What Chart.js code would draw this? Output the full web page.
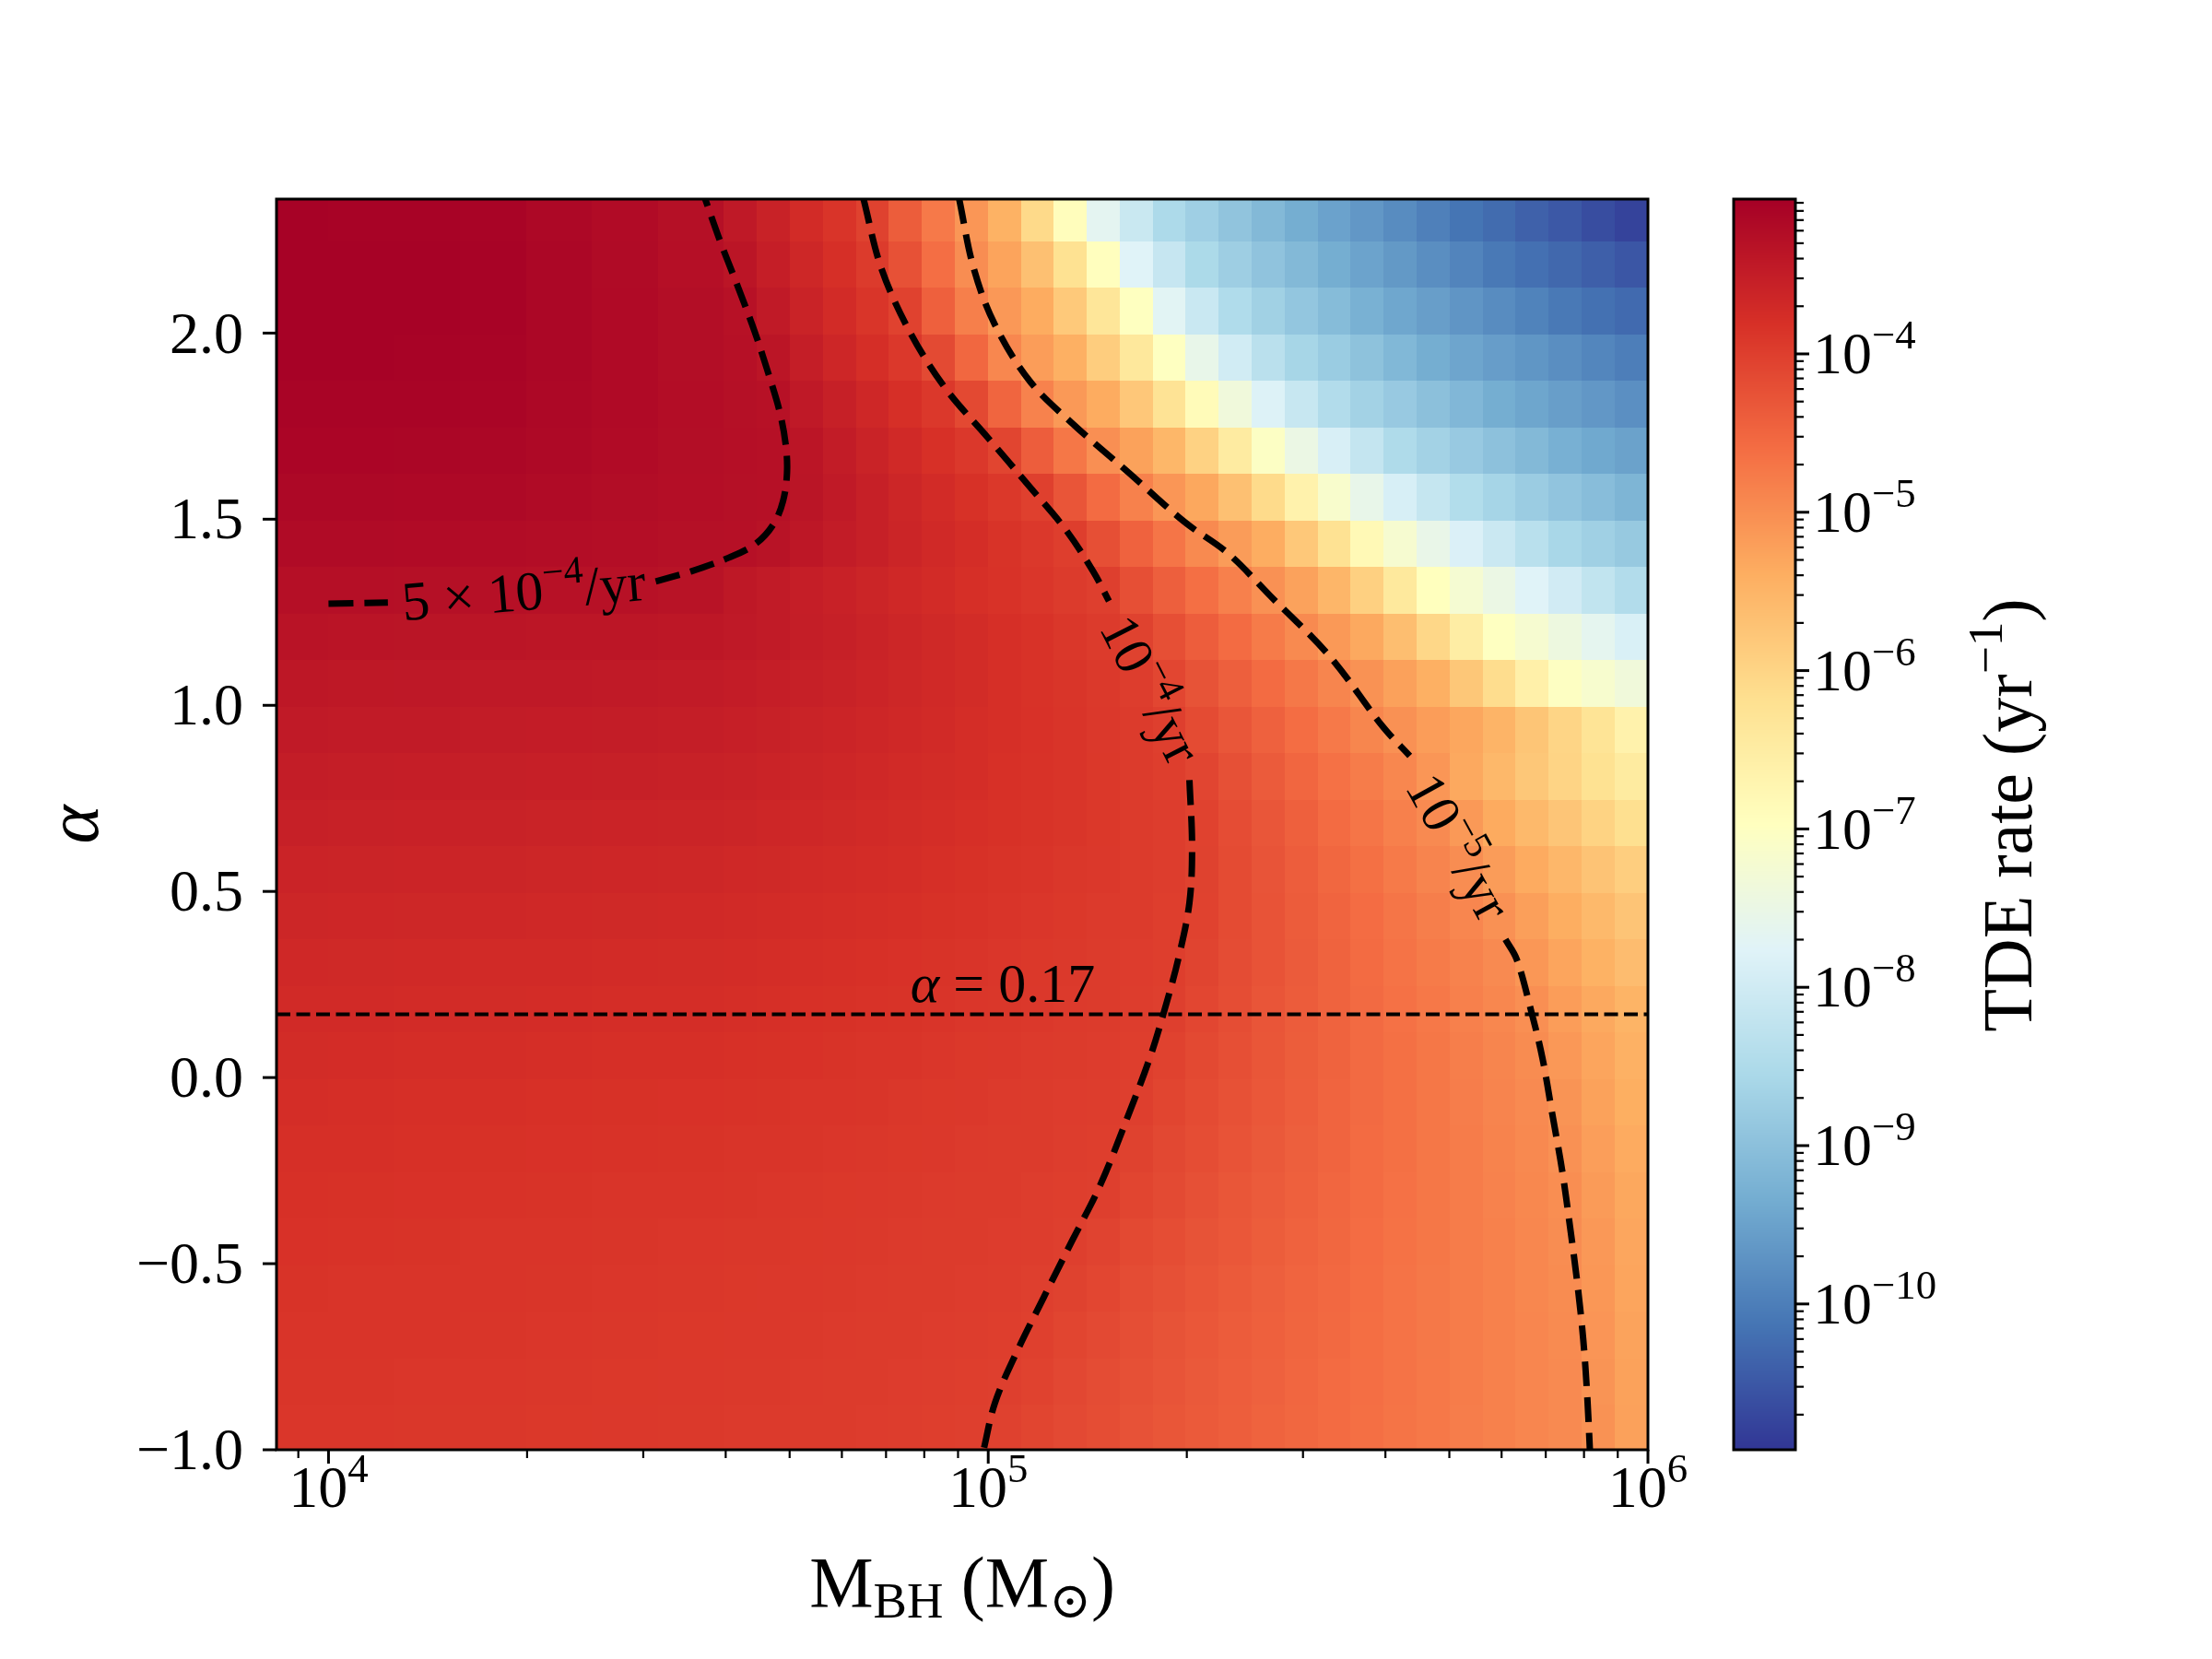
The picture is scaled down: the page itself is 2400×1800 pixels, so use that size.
<!DOCTYPE html>
<html>
<head>
<meta charset="utf-8">
<script src="https://cdn.jsdelivr.net/npm/chart.js@4.4.1/dist/chart.umd.min.js"></script>
<style>
  html, body { margin: 0; padding: 0; background: #fff; }
  #wrap { width: 2400px; height: 1800px; }
</style>
</head>
<body>
<div id="wrap"><canvas id="tdeChart" width="2400" height="1800"></canvas></div>
<script>
// axis limits
const xMin = 8340, xMax = 1e6;
const alphaMin = -1.0, alphaMax = 2.36;
const rateMin = 1.2e-11, rateMax = 9.5e-4;

// tick values
const massTicks = [1e4, 1e5, 1e6];
const alphaTicks = [-1.0, -0.5, 0.0, 0.5, 1.0, 1.5, 2.0];
const rateTicks = [1e-10, 1e-9, 1e-8, 1e-7, 1e-6, 1e-5, 1e-4];

// rate map: cell edges in M_BH and alpha, values are log10(rate / yr^-1)
const massEdges = [7943, 10000, 12589, 15849, 19953, 25119, 31623, 39811, 44668, 50119,
  56234, 63096, 70795, 79433, 89125, 100000, 112202, 125893, 141254, 158489, 177828,
  199526, 223872, 251189, 281838, 316228, 354813, 398107, 446684, 501187, 562341,
  630957, 707946, 794328, 891251, 1000000];
const alphaEdges = [-1, -0.875, -0.75, -0.625, -0.5, -0.375, -0.25, -0.125, 0, 0.125,
  0.25, 0.375, 0.5, 0.625, 0.75, 0.875, 1, 1.125, 1.25, 1.375, 1.5, 1.625, 1.75,
  1.875, 2, 2.125, 2.25, 2.375];
const log10Rate = [
  [-3.89,-3.89,-3.90,-3.90,-3.91,-3.92,-3.93,-3.94,-3.94,-3.95,-3.96,-3.97,-3.98,-3.99,-4.00,-4.03,-4.08,-4.14,-4.19,-4.25,-4.30,-4.36,-4.41,-4.47,-4.52,-4.58,-4.63,-4.69,-4.74,-4.80,-4.85,-4.91,-4.96,-5.05,-5.23],
  [-3.88,-3.88,-3.89,-3.89,-3.90,-3.91,-3.92,-3.93,-3.93,-3.94,-3.95,-3.96,-3.97,-3.98,-3.99,-4.00,-4.05,-4.11,-4.17,-4.23,-4.28,-4.34,-4.40,-4.45,-4.51,-4.57,-4.62,-4.68,-4.74,-4.79,-4.85,-4.91,-4.96,-5.07,-5.24],
  [-3.86,-3.87,-3.87,-3.88,-3.89,-3.90,-3.91,-3.92,-3.92,-3.93,-3.94,-3.95,-3.96,-3.97,-3.98,-3.99,-4.02,-4.08,-4.14,-4.20,-4.26,-4.32,-4.38,-4.44,-4.50,-4.55,-4.61,-4.67,-4.73,-4.79,-4.85,-4.91,-4.97,-5.09,-5.26],
  [-3.85,-3.86,-3.86,-3.87,-3.88,-3.89,-3.90,-3.91,-3.92,-3.92,-3.93,-3.94,-3.95,-3.96,-3.97,-3.98,-4.00,-4.04,-4.10,-4.17,-4.23,-4.29,-4.35,-4.42,-4.48,-4.54,-4.60,-4.67,-4.73,-4.79,-4.85,-4.92,-4.98,-5.11,-5.28],
  [-3.83,-3.84,-3.85,-3.86,-3.87,-3.88,-3.89,-3.90,-3.90,-3.91,-3.92,-3.93,-3.94,-3.95,-3.96,-3.97,-3.98,-4.00,-4.06,-4.13,-4.19,-4.26,-4.32,-4.39,-4.46,-4.52,-4.59,-4.66,-4.72,-4.79,-4.85,-4.92,-4.99,-5.13,-5.30],
  [-3.81,-3.82,-3.83,-3.84,-3.85,-3.86,-3.87,-3.88,-3.89,-3.90,-3.91,-3.92,-3.93,-3.94,-3.95,-3.96,-3.98,-3.99,-4.01,-4.08,-4.15,-4.23,-4.30,-4.37,-4.44,-4.51,-4.58,-4.65,-4.72,-4.79,-4.86,-4.93,-5.00,-5.16,-5.32],
  [-3.79,-3.80,-3.81,-3.82,-3.83,-3.84,-3.85,-3.86,-3.87,-3.88,-3.89,-3.90,-3.91,-3.92,-3.94,-3.95,-3.96,-3.98,-3.99,-4.04,-4.12,-4.19,-4.27,-4.34,-4.42,-4.49,-4.57,-4.64,-4.72,-4.79,-4.87,-4.94,-5.04,-5.20,-5.36],
  [-3.77,-3.78,-3.79,-3.80,-3.81,-3.82,-3.83,-3.84,-3.85,-3.86,-3.87,-3.88,-3.90,-3.91,-3.92,-3.94,-3.95,-3.97,-3.98,-4.00,-4.08,-4.16,-4.24,-4.32,-4.40,-4.48,-4.56,-4.64,-4.72,-4.80,-4.88,-4.96,-5.07,-5.24,-5.40],
  [-3.74,-3.75,-3.76,-3.77,-3.78,-3.79,-3.80,-3.81,-3.82,-3.83,-3.85,-3.86,-3.87,-3.89,-3.91,-3.92,-3.94,-3.96,-3.97,-3.99,-4.05,-4.13,-4.22,-4.30,-4.39,-4.47,-4.56,-4.64,-4.72,-4.81,-4.89,-4.98,-5.12,-5.28,-5.44],
  [-3.71,-3.72,-3.73,-3.74,-3.75,-3.76,-3.77,-3.78,-3.79,-3.81,-3.82,-3.84,-3.85,-3.87,-3.89,-3.90,-3.92,-3.94,-3.96,-3.98,-4.01,-4.10,-4.19,-4.29,-4.38,-4.47,-4.56,-4.65,-4.74,-4.83,-4.92,-5.02,-5.18,-5.33,-5.48],
  [-3.68,-3.69,-3.70,-3.71,-3.72,-3.73,-3.74,-3.75,-3.77,-3.78,-3.80,-3.81,-3.83,-3.85,-3.87,-3.89,-3.91,-3.93,-3.95,-3.97,-3.99,-4.07,-4.17,-4.27,-4.37,-4.47,-4.57,-4.67,-4.77,-4.86,-4.96,-5.11,-5.28,-5.45,-5.62],
  [-3.64,-3.65,-3.66,-3.67,-3.68,-3.69,-3.70,-3.72,-3.73,-3.75,-3.76,-3.78,-3.80,-3.82,-3.84,-3.87,-3.89,-3.91,-3.94,-3.96,-3.99,-4.05,-4.16,-4.27,-4.38,-4.48,-4.59,-4.70,-4.81,-4.91,-5.04,-5.21,-5.39,-5.56,-5.74],
  [-3.60,-3.61,-3.62,-3.63,-3.64,-3.65,-3.66,-3.68,-3.69,-3.71,-3.73,-3.75,-3.77,-3.80,-3.82,-3.85,-3.87,-3.90,-3.92,-3.95,-3.98,-4.04,-4.16,-4.28,-4.40,-4.52,-4.64,-4.76,-4.88,-4.99,-5.17,-5.36,-5.54,-5.72,-5.90],
  [-3.55,-3.56,-3.57,-3.58,-3.59,-3.60,-3.61,-3.63,-3.65,-3.67,-3.69,-3.71,-3.74,-3.77,-3.79,-3.82,-3.85,-3.88,-3.91,-3.95,-3.98,-4.05,-4.18,-4.31,-4.44,-4.57,-4.70,-4.83,-4.96,-5.14,-5.35,-5.56,-5.76,-5.97,-6.18],
  [-3.50,-3.51,-3.52,-3.53,-3.54,-3.55,-3.56,-3.58,-3.60,-3.63,-3.65,-3.68,-3.71,-3.74,-3.77,-3.81,-3.84,-3.87,-3.91,-3.95,-3.99,-4.09,-4.23,-4.37,-4.51,-4.65,-4.79,-4.92,-5.10,-5.33,-5.55,-5.78,-6.00,-6.22,-6.45],
  [-3.45,-3.46,-3.47,-3.48,-3.49,-3.50,-3.51,-3.54,-3.56,-3.59,-3.62,-3.65,-3.68,-3.72,-3.76,-3.79,-3.83,-3.87,-3.92,-3.96,-4.01,-4.16,-4.31,-4.45,-4.60,-4.75,-4.90,-5.04,-5.18,-5.31,-5.49,-5.75,-6.01,-6.29,-6.65],
  [-3.40,-3.41,-3.42,-3.43,-3.44,-3.45,-3.46,-3.49,-3.52,-3.55,-3.58,-3.62,-3.66,-3.70,-3.74,-3.79,-3.84,-3.88,-3.93,-3.98,-4.10,-4.26,-4.42,-4.57,-4.73,-4.89,-5.05,-5.23,-5.43,-5.78,-6.14,-6.60,-7.01,-7.18,-7.35],
  [-3.34,-3.35,-3.36,-3.37,-3.38,-3.39,-3.40,-3.44,-3.47,-3.51,-3.55,-3.59,-3.64,-3.69,-3.74,-3.79,-3.84,-3.90,-3.96,-4.04,-4.22,-4.40,-4.58,-4.77,-4.95,-5.14,-5.33,-5.65,-6.04,-6.51,-7.00,-7.21,-7.42,-7.64,-7.86],
  [-3.27,-3.27,-3.28,-3.29,-3.30,-3.31,-3.33,-3.41,-3.46,-3.52,-3.57,-3.63,-3.68,-3.73,-3.79,-3.84,-3.89,-3.95,-4.00,-4.21,-4.42,-4.63,-4.83,-5.04,-5.25,-5.52,-5.93,-6.40,-6.96,-7.23,-7.49,-7.76,-7.99,-8.22,-8.45],
  [-3.20,-3.20,-3.21,-3.22,-3.24,-3.26,-3.28,-3.29,-3.33,-3.40,-3.48,-3.55,-3.63,-3.70,-3.77,-3.85,-3.92,-3.99,-4.22,-4.46,-4.70,-4.95,-5.17,-5.38,-5.80,-6.24,-6.82,-7.21,-7.54,-7.84,-8.09,-8.35,-8.58,-8.71,-8.84],
  [-3.15,-3.15,-3.16,-3.17,-3.20,-3.23,-3.26,-3.28,-3.29,-3.36,-3.45,-3.55,-3.64,-3.73,-3.82,-3.91,-4.02,-4.29,-4.57,-4.85,-5.10,-5.32,-5.67,-6.10,-6.65,-7.15,-7.55,-7.89,-8.16,-8.44,-8.63,-8.78,-8.92,-9.06,-9.20],
  [-3.11,-3.11,-3.12,-3.13,-3.17,-3.21,-3.25,-3.27,-3.29,-3.37,-3.48,-3.59,-3.70,-3.81,-3.92,-4.08,-4.40,-4.72,-5.02,-5.24,-5.53,-5.96,-6.47,-7.04,-7.49,-7.88,-8.18,-8.49,-8.67,-8.83,-8.98,-9.13,-9.28,-9.40,-9.50],
  [-3.08,-3.08,-3.09,-3.10,-3.15,-3.19,-3.24,-3.28,-3.30,-3.43,-3.55,-3.67,-3.80,-3.92,-4.13,-4.50,-4.86,-5.14,-5.37,-5.79,-6.26,-6.87,-7.36,-7.80,-8.13,-8.45,-8.67,-8.83,-9.00,-9.16,-9.33,-9.44,-9.55,-9.65,-9.76],
  [-3.06,-3.06,-3.07,-3.08,-3.14,-3.19,-3.25,-3.29,-3.37,-3.51,-3.65,-3.78,-3.92,-4.15,-4.53,-4.92,-5.18,-5.43,-5.88,-6.39,-7.00,-7.55,-7.98,-8.33,-8.61,-8.79,-8.97,-9.15,-9.33,-9.45,-9.56,-9.67,-9.78,-9.89,-10.00],
  [-3.05,-3.05,-3.06,-3.07,-3.13,-3.19,-3.25,-3.31,-3.45,-3.59,-3.73,-3.88,-4.05,-4.44,-4.82,-5.13,-5.37,-5.82,-6.34,-6.99,-7.70,-8.10,-8.47,-8.70,-8.89,-9.08,-9.27,-9.42,-9.55,-9.68,-9.81,-9.94,-10.07,-10.18,-10.27],
  [-3.05,-3.05,-3.06,-3.07,-3.14,-3.20,-3.27,-3.37,-3.52,-3.66,-3.80,-3.95,-4.24,-4.62,-4.99,-5.27,-5.68,-6.22,-6.95,-7.76,-8.15,-8.53,-8.74,-8.94,-9.13,-9.33,-9.48,-9.63,-9.78,-9.92,-10.07,-10.19,-10.30,-10.41,-10.52],
  [-3.06,-3.07,-3.07,-3.08,-3.15,-3.21,-3.28,-3.44,-3.58,-3.73,-3.87,-4.04,-4.39,-4.75,-5.10,-5.45,-6.08,-6.92,-7.67,-8.11,-8.52,-8.73,-8.93,-9.13,-9.33,-9.49,-9.65,-9.81,-9.97,-10.13,-10.25,-10.38,-10.50,-10.63,-10.76]
];

// contour 5e-4 /yr (two pieces, gap for the inline label)
const c5e4MassA = [10000, 12303];
const c5e4AlphaA = [1.273, 1.276];
const c5e4MassB = [31333, 35481, 40087, 44259, 47206, 48865, 49545, 49317, 48306, 46452, 44259, 41495, 39174, 37239];
const c5e4AlphaB = [1.333, 1.360, 1.394, 1.432, 1.485, 1.549, 1.625, 1.701, 1.788, 1.890, 2.004, 2.136, 2.250, 2.360];
// contour 1e-4 /yr
const c1e4MassA = [64714, 68865, 76033, 86099, 99770, 115611, 130918, 144212, 152405];
const c1e4AlphaA = [2.360, 2.174, 2.004, 1.852, 1.720, 1.587, 1.473, 1.360, 1.280];
const c1e4MassB = [201837, 203704, 201837, 194089, 184502, 175792, 163305, 147911, 133968, 121339, 110154, 102329, 98401];
const c1e4AlphaB = [0.799, 0.621, 0.470, 0.318, 0.174, 0.053, -0.098, -0.288, -0.439, -0.591, -0.742, -0.875, -1.0];
// contour 1e-5 /yr
const c1e5MassA = [90365, 95060, 102329, 115611, 133968, 163305, 198609, 230675, 267301, 328852, 396278, 435512];
const c1e5AlphaA = [2.360, 2.174, 2.023, 1.871, 1.758, 1.625, 1.492, 1.409, 1.295, 1.133, 0.943, 0.864];
const c1e5MassB = [608135, 632412, 663743, 691831, 716143, 741310, 762079, 781628, 797995, 809096, 816582];
const c1e5AlphaB = [0.371, 0.318, 0.186, 0.053, -0.098, -0.250, -0.402, -0.553, -0.705, -0.856, -1.0];

const alphaCut = 0.17;

// inline contour labels: anchor in data units, rotation in degrees
const contourLabels = [
  { mass: 19770, alpha: 1.30, angle: -4.8, parts: [['5 × 10', ''], ['−4', 'sup'], ['/yr', '']] },
  { mass: 175400, alpha: 1.04, angle: 63, parts: [['10', ''], ['−4', 'sup'], ['/yr', '']] },
  { mass: 514000, alpha: 0.617, angle: 61, parts: [['10', ''], ['−5', 'sup'], ['/yr', '']] }
];
const cutLabelMass = 105200;

// RdYlBu reversed
const rdylbuR = [[49,54,149],[69,117,180],[116,173,209],[171,217,233],[224,243,248],
  [255,255,191],[254,224,144],[253,174,97],[244,109,67],[215,48,39],[165,0,38]];

function rateColor(logRate) {
  const lo = Math.log10(rateMin), hi = Math.log10(rateMax);
  let t = (logRate - lo) / (hi - lo);
  t = Math.min(1, Math.max(0, t)) * 10;
  const i = Math.min(9, Math.floor(t));
  const f = t - i;
  const a = rdylbuR[i], b = rdylbuR[i + 1];
  return 'rgb(' + Math.round(a[0] + (b[0] - a[0]) * f) + ',' +
    Math.round(a[1] + (b[1] - a[1]) * f) + ',' + Math.round(a[2] + (b[2] - a[2]) * f) + ')';
}

const FONT = '"Liberation Serif", "DejaVu Serif", serif';
function fontFor(kind, size) {
  const s = (kind === 'sup' || kind === 'sub') ? size * 0.7 : size;
  return (kind === 'it' ? 'italic ' : '') + s.toFixed(1) + 'px ' + FONT;
}
function richWidth(ctx, parts, size) {
  let w = 0;
  for (const [t, k] of parts) { ctx.font = fontFor(k, size); w += ctx.measureText(t).width; }
  return w;
}
function drawRich(ctx, parts, x, y, size, align) {
  const w = richWidth(ctx, parts, size);
  let cx = align === 'center' ? x - w / 2 : (align === 'right' ? x - w : x);
  ctx.textAlign = 'left';
  ctx.textBaseline = 'alphabetic';
  for (const [t, k] of parts) {
    ctx.font = fontFor(k, size);
    const dy = k === 'sup' ? -0.42 * size : (k === 'sub' ? 0.16 * size : 0);
    ctx.fillText(t, cx, y + dy);
    cx += ctx.measureText(t).width;
  }
}
const powerLabel = v => [['10', ''], [String(Math.round(Math.log10(v))).replace('-', '−'), 'sup']];

function logTicks(lo, hi) {
  const out = [];
  for (let e = Math.floor(Math.log10(lo)); e <= Math.ceil(Math.log10(hi)); e++) {
    for (let k = 1; k <= 9; k++) {
      const v = k * Math.pow(10, e);
      if (v >= lo * 0.9999 && v <= hi * 1.0001) out.push({ v: v, major: k === 1 });
    }
  }
  return out;
}

const heatmapPlugin = {
  id: 'heatmap',
  beforeDatasetsDraw(chart) {
    const { ctx, chartArea: a, scales: { x, y } } = chart;
    ctx.save();
    ctx.beginPath();
    ctx.rect(a.left, a.top, a.width, a.height);
    ctx.clip();
    for (let r = 0; r < log10Rate.length; r++) {
      const yTop = y.getPixelForValue(alphaEdges[r + 1]);
      const yBot = y.getPixelForValue(alphaEdges[r]);
      for (let c = 0; c < log10Rate[r].length; c++) {
        const x0 = x.getPixelForValue(massEdges[c]);
        const x1 = x.getPixelForValue(massEdges[c + 1]);
        ctx.fillStyle = rateColor(log10Rate[r][c]);
        ctx.fillRect(Math.floor(x0), Math.floor(yTop), Math.ceil(x1) - Math.floor(x0) + 1,
          Math.ceil(yBot) - Math.floor(yTop) + 1);
      }
    }
    ctx.restore();
  }
};

const decorPlugin = {
  id: 'decor',
  afterDatasetsDraw(chart) {
    const { ctx, chartArea: a, scales: { x, y, cb } } = chart;
    const tickSize = 64, labelSize = 60;
    ctx.save();
    ctx.fillStyle = '#000';
    ctx.strokeStyle = '#000';

    // inline contour labels
    for (const lab of contourLabels) {
      ctx.save();
      ctx.translate(x.getPixelForValue(lab.mass), y.getPixelForValue(lab.alpha));
      ctx.rotate(lab.angle * Math.PI / 180);
      drawRich(ctx, lab.parts, 0, 0.3 * labelSize, labelSize, 'center');
      ctx.restore();
    }
    drawRich(ctx, [['α', 'it'], [' = 0.17', '']], x.getPixelForValue(cutLabelMass),
      y.getPixelForValue(alphaCut) - 13, labelSize, 'center');

    // frame
    ctx.lineWidth = 3;
    ctx.strokeRect(a.left, a.top, a.width, a.height);

    // y axis
    ctx.lineWidth = 3;
    for (const v of alphaTicks) {
      const py = y.getPixelForValue(v);
      ctx.beginPath(); ctx.moveTo(a.left - 15, py); ctx.lineTo(a.left, py); ctx.stroke();
      drawRich(ctx, [[v.toFixed(1).replace('-', '−'), '']], a.left - 36, py + 0.33 * tickSize, tickSize, 'right');
    }

    // x axis
    for (const t of logTicks(xMin, xMax)) {
      const px = x.getPixelForValue(t.v);
      ctx.lineWidth = t.major ? 3 : 2.2;
      ctx.beginPath(); ctx.moveTo(px, a.bottom); ctx.lineTo(px, a.bottom + (t.major ? 15 : 9)); ctx.stroke();
    }
    for (const v of massTicks) {
      drawRich(ctx, powerLabel(v), x.getPixelForValue(v), a.bottom + 62, tickSize, 'center');
    }

    // axis titles
    drawRich(ctx, [['M', ''], ['BH', 'sub'], [' (M', ''], ['⊙', 'sub'], [')', '']],
      (a.left + a.right) / 2, a.bottom + 170, 78, 'center');
    ctx.save();
    ctx.translate(88, (a.top + a.bottom) / 2);
    ctx.rotate(-Math.PI / 2);
    drawRich(ctx, [['α', 'it']], 0, 0.22 * 80, 80, 'center');
    ctx.restore();

    // colour bar
    const cbLeft = a.right + 93, cbRight = a.right + 160;
    for (let py = Math.floor(a.top); py < Math.ceil(a.bottom); py++) {
      const v = cb.getValueForPixel(py + 0.5);
      ctx.fillStyle = rateColor(Math.log10(v));
      ctx.fillRect(cbLeft, py, cbRight - cbLeft, 1);
    }
    ctx.fillStyle = '#000';
    ctx.lineWidth = 3;
    ctx.strokeRect(cbLeft, a.top, cbRight - cbLeft, a.bottom - a.top);
    for (const t of logTicks(rateMin, rateMax)) {
      const py = cb.getPixelForValue(t.v);
      ctx.lineWidth = t.major ? 3 : 2.2;
      ctx.beginPath(); ctx.moveTo(cbRight, py); ctx.lineTo(cbRight + (t.major ? 15 : 9), py); ctx.stroke();
    }
    for (const v of rateTicks) {
      drawRich(ctx, powerLabel(v), cbRight + 19, cb.getPixelForValue(v) + 0.33 * tickSize, tickSize, 'left');
    }
    ctx.save();
    ctx.translate(2181, (a.top + a.bottom) / 2 - 10);
    ctx.rotate(-Math.PI / 2);
    drawRich(ctx, [['TDE rate (yr', ''], ['−1', 'sup'], [')', '']], 0, 0.3 * 76, 76, 'center');
    ctx.restore();

    ctx.restore();
  }
};

const toPoints = (ms, as) => ms.map((m, i) => ({ x: m, y: as[i] }));
const contourLine = (ms, as) => ({
  data: toPoints(ms, as),
  showLine: true,
  borderColor: '#000',
  borderWidth: 7,
  borderDash: [27, 12],
  pointRadius: 0,
  tension: 0.35,
  fill: false,
  clip: 0
});

const ctx = document.getElementById('tdeChart').getContext('2d');
new Chart(ctx, {
  type: 'scatter',
  data: {
    datasets: [
      contourLine(c5e4MassA, c5e4AlphaA),
      contourLine(c5e4MassB, c5e4AlphaB),
      contourLine(c1e4MassA, c1e4AlphaA),
      contourLine(c1e4MassB, c1e4AlphaB),
      contourLine(c1e5MassA, c1e5AlphaA),
      contourLine(c1e5MassB, c1e5AlphaB),
      {
        data: [{ x: xMin, y: alphaCut }, { x: xMax, y: alphaCut }],
        showLine: true,
        borderColor: '#000',
        borderWidth: 4,
        borderDash: [15, 6.5],
        pointRadius: 0,
        fill: false,
        clip: 0
      }
    ]
  },
  options: {
    responsive: false,
    animation: false,
    layout: { padding: { left: 300, top: 216, right: 612, bottom: 227 } },
    plugins: { legend: { display: false }, tooltip: { enabled: false } },
    scales: {
      x: { type: 'logarithmic', min: xMin, max: xMax, display: false },
      y: { type: 'linear', min: alphaMin, max: alphaMax, display: false },
      cb: { type: 'logarithmic', axis: 'y', min: rateMin, max: rateMax, display: false }
    }
  },
  plugins: [heatmapPlugin, decorPlugin]
});
</script>
</body>
</html>
